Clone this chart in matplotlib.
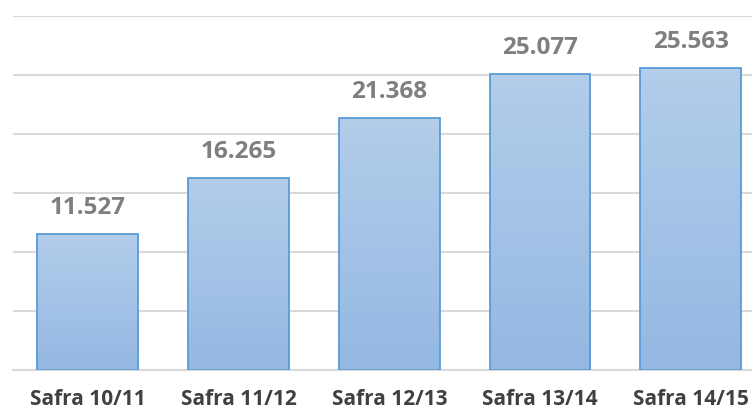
import matplotlib
matplotlib.use("Agg")
import matplotlib.pyplot as plt
import numpy as np
from matplotlib.colors import LinearSegmentedColormap

categories = ["Safra 10/11", "Safra 11/12", "Safra 12/13", "Safra 13/14", "Safra 14/15"]
values = [11.527, 16.265, 21.368, 25.077, 25.563]
labels = ["11.527", "16.265", "21.368", "25.077", "25.563"]
yticks = [0, 5, 10, 15, 20, 25, 30]

fig = plt.figure(figsize=(7.52, 4.11), dpi=100)
# axes extends past right edge like the original
ax = fig.add_axes([12.6 / 752, 1 - 370 / 411, (766 - 12.6) / 752, (370 - 16) / 411])
ax.set_xlim(-0.5, len(categories) - 0.5)
ax.set_ylim(0, 30)

cmap = LinearSegmentedColormap.from_list("g", ["#94b8e3", "#b3cdea"])
width = 0.67
bars = ax.bar(range(len(values)), values, width=width, facecolor="none",
              edgecolor="#5b9bd5", linewidth=1.3, zorder=3)
grad = np.linspace(0, 1, 256).reshape(-1, 1)
for b in bars:
    x0, y0 = b.get_x(), b.get_y()
    w, h = b.get_width(), b.get_height()
    im = ax.imshow(grad, cmap=cmap, origin="lower", aspect="auto",
                   extent=[x0, x0 + w, y0, y0 + h], zorder=2)
    im.set_clip_path(b)

ax.set_yticks(yticks)
ax.yaxis.grid(True, color="#d9d9d9", linewidth=1.5, zorder=0)
ax.set_axisbelow(True)
ax.tick_params(left=False, labelleft=False, bottom=False)
for s in ["top", "right", "left"]:
    ax.spines[s].set_visible(False)
ax.spines["bottom"].set_color("#d9d9d9")
ax.spines["bottom"].set_linewidth(1.5)

ax.set_xticks(range(len(categories)))
ax.set_xticklabels(categories, fontfamily="Open Sans", fontweight="bold",
                   fontsize=15, color="#404040")
ax.tick_params(axis="x", pad=10.5)

for i, (v, t) in enumerate(zip(values, labels)):
    ax.annotate(t, (i, v), xytext=(0, 26), textcoords="offset pixels",
                ha="center", va="center", fontfamily="Open Sans", fontweight="bold",
                fontsize=17.5, color="#7f7f7f", zorder=4)

fig.savefig("out.png", dpi=100)
